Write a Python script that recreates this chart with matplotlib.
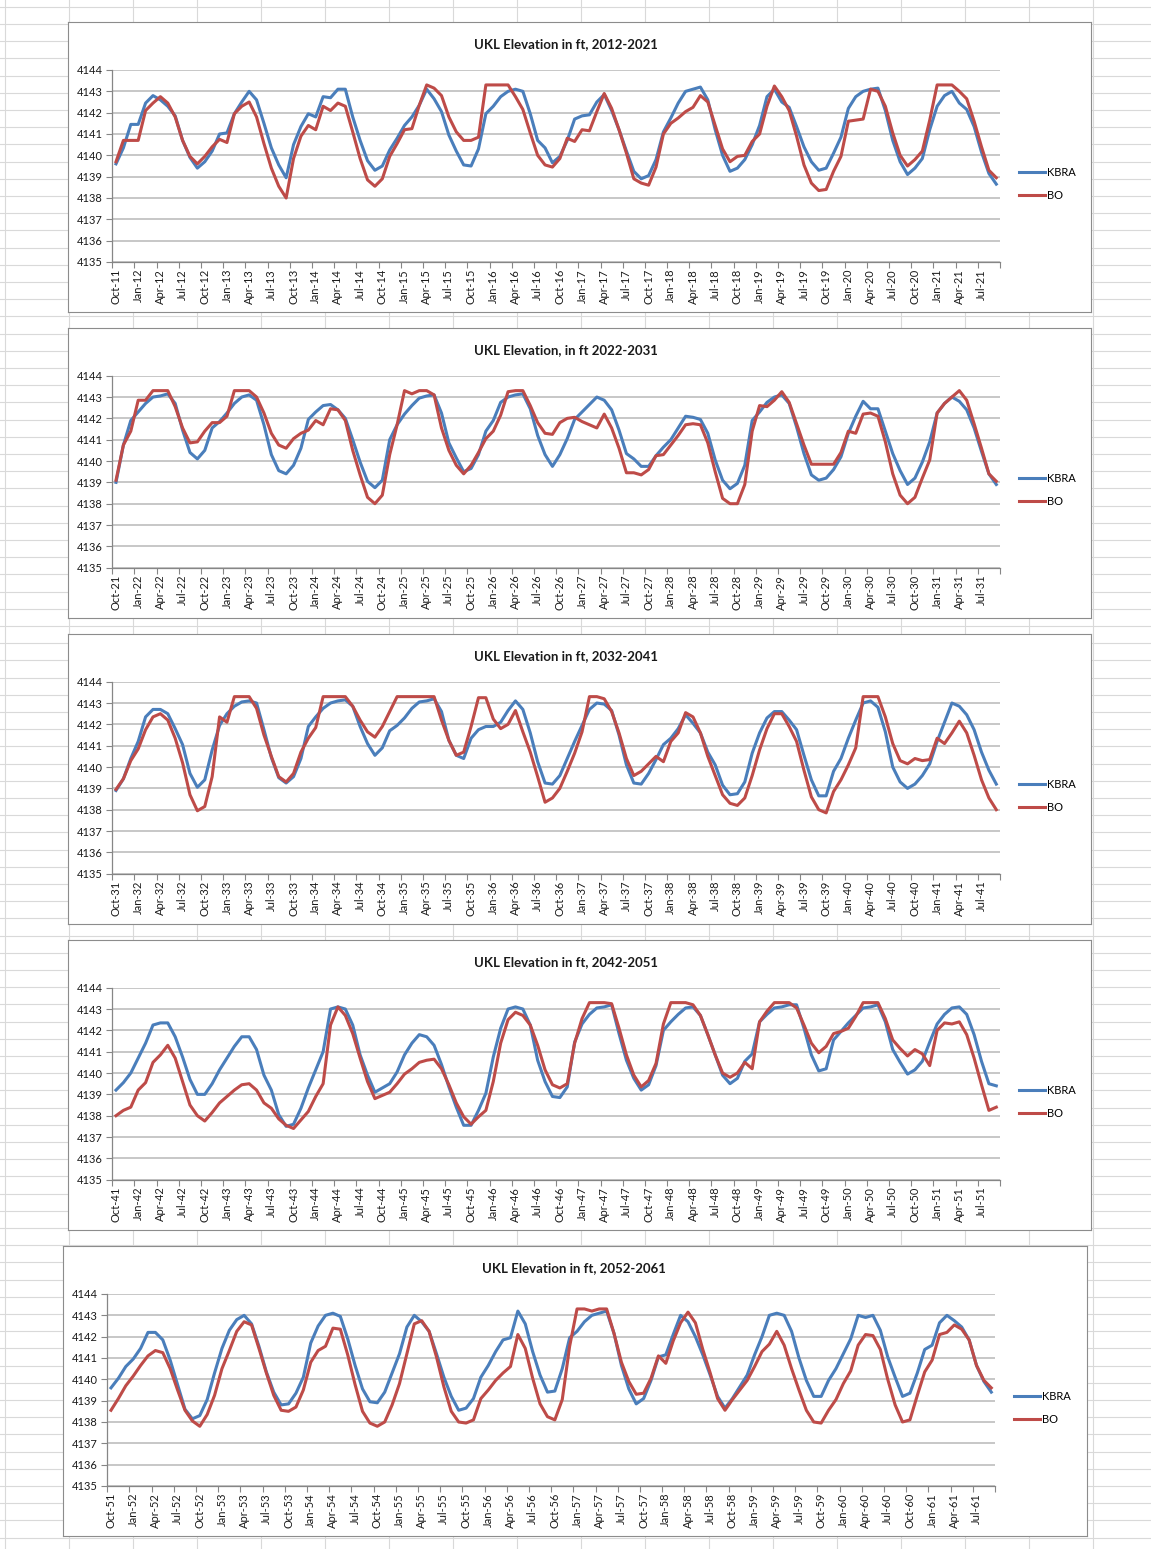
import numpy as np
import pandas as pd
import matplotlib.pyplot as plt
from matplotlib.lines import Line2D

plt.rcParams['font.family'] = ['Lato', 'DejaVu Sans']

W, H = 1151, 1549

titles = ['UKL Elevation in ft, 2012-2021', 'UKL Elevation, in ft 2022-2031',
          'UKL Elevation in ft, 2032-2041', 'UKL Elevation in ft, 2042-2051',
          'UKL Elevation in ft, 2052-2061']
starts = ['2011-10-01', '2021-10-01', '2031-10-01', '2041-10-01', '2051-10-01']
series_names = ['KBRA', 'BO']

# monthly elevations, Oct through Sep, 10 water years per chart
kbra_2012 = [4139.6, 4140.35, 4141.45, 4141.45, 4142.45, 4142.8, 4142.6, 4142.3, 4141.85, 4140.7, 4139.9, 4139.4,
             4139.7, 4140.2, 4141.0, 4141.05, 4141.95, 4142.5, 4143.0, 4142.6, 4141.5, 4140.35, 4139.55, 4138.95,
             4140.5, 4141.35, 4141.95, 4141.8, 4142.75, 4142.7, 4143.1, 4143.1, 4141.8, 4140.7, 4139.75, 4139.3,
             4139.5, 4140.25, 4140.8, 4141.4, 4141.8, 4142.35, 4143.1, 4142.65, 4142.05, 4140.95, 4140.2, 4139.55,
             4139.5, 4140.3, 4141.95, 4142.3, 4142.75, 4143.0, 4143.1, 4143.0, 4141.95, 4140.7, 4140.35, 4139.65,
             4139.95, 4140.7, 4141.7, 4141.85, 4141.9, 4142.5, 4142.85, 4142.1, 4141.2, 4140.2, 4139.25, 4138.9,
             4139.05, 4139.8, 4141.1, 4141.75, 4142.45, 4143.0, 4143.1, 4143.2, 4142.6, 4141.2, 4140.0, 4139.25,
             4139.4, 4139.8, 4140.5, 4141.4, 4142.75, 4143.1, 4142.5, 4142.25, 4141.35, 4140.4, 4139.7, 4139.3,
             4139.4, 4140.1, 4140.85, 4142.2, 4142.75, 4143.0, 4143.1, 4143.15, 4142.1, 4140.7, 4139.7, 4139.1,
             4139.4, 4139.85, 4141.2, 4142.3, 4142.8, 4143.0, 4142.45, 4142.15, 4141.35, 4140.15, 4139.15, 4138.65]
bo_2012 = [4139.7, 4140.7, 4140.7, 4140.7, 4142.1, 4142.45, 4142.75, 4142.45, 4141.8, 4140.7, 4139.95, 4139.6,
           4139.95, 4140.4, 4140.75, 4140.6, 4141.95, 4142.3, 4142.5, 4141.8, 4140.55, 4139.4, 4138.55, 4138.0,
           4139.85, 4140.9, 4141.4, 4141.2, 4142.3, 4142.1, 4142.45, 4142.3, 4141.1, 4139.85, 4138.85, 4138.55,
           4138.9, 4139.95, 4140.55, 4141.2, 4141.25, 4142.35, 4143.3, 4143.15, 4142.8, 4141.8, 4141.1, 4140.7,
           4140.7, 4140.85, 4143.3, 4143.3, 4143.3, 4143.3, 4142.75, 4142.15, 4141.05, 4140.0, 4139.55, 4139.45,
           4139.85, 4140.8, 4140.65, 4141.2, 4141.15, 4142.05, 4142.9, 4142.2, 4141.2, 4140.1, 4138.9, 4138.7,
           4138.6, 4139.45, 4141.0, 4141.5, 4141.75, 4142.05, 4142.25, 4142.8, 4142.5, 4141.4, 4140.3, 4139.7,
           4139.95, 4140.0, 4140.65, 4141.0, 4142.3, 4143.25, 4142.75, 4142.1, 4140.9, 4139.55, 4138.7, 4138.35,
           4138.4, 4139.25, 4139.95, 4141.6, 4141.65, 4141.7, 4143.1, 4143.0, 4142.3, 4141.05, 4140.0, 4139.5,
           4139.8, 4140.2, 4141.65, 4143.3, 4143.3, 4143.3, 4143.0, 4142.65, 4141.6, 4140.4, 4139.3, 4138.95]

kbra_2022 = [4139.0, 4140.75, 4141.9, 4142.3, 4142.7, 4143.0, 4143.05, 4143.15, 4142.7, 4141.45, 4140.4, 4140.1,
             4140.5, 4141.55, 4141.85, 4142.25, 4142.7, 4143.0, 4143.1, 4142.85, 4141.7, 4140.3, 4139.55, 4139.4,
             4139.8, 4140.6, 4141.95, 4142.3, 4142.6, 4142.65, 4142.4, 4142.0, 4141.0, 4139.95, 4139.05, 4138.75,
             4139.1, 4141.0, 4141.7, 4142.2, 4142.6, 4142.95, 4143.05, 4143.1, 4142.25, 4140.85, 4140.15, 4139.5,
             4139.65, 4140.3, 4141.4, 4141.9, 4142.75, 4143.0, 4143.1, 4143.15, 4142.45, 4141.2, 4140.3, 4139.75,
             4140.3, 4141.05, 4141.95, 4142.3, 4142.65, 4143.0, 4142.85, 4142.4, 4141.45, 4140.35, 4140.1, 4139.75,
             4139.75, 4140.25, 4140.65, 4141.0, 4141.55, 4142.1, 4142.05, 4141.95, 4141.3, 4140.05, 4139.1, 4138.7,
             4138.95, 4139.8, 4141.9, 4142.3, 4142.75, 4143.0, 4143.1, 4142.7, 4141.6, 4140.35, 4139.35, 4139.1,
             4139.2, 4139.6, 4140.2, 4141.3, 4142.1, 4142.8, 4142.45, 4142.45, 4141.4, 4140.35, 4139.55, 4138.9,
             4139.2, 4139.95, 4140.9, 4142.25, 4142.7, 4143.0, 4142.8, 4142.4, 4141.55, 4140.45, 4139.4, 4138.9]
bo_2022 = [4139.1, 4140.75, 4141.4, 4142.85, 4142.85, 4143.3, 4143.3, 4143.3, 4142.55, 4141.55, 4140.85, 4140.9,
           4141.4, 4141.8, 4141.8, 4142.1, 4143.3, 4143.3, 4143.3, 4143.0, 4142.25, 4141.3, 4140.75, 4140.6,
           4141.05, 4141.3, 4141.45, 4141.9, 4141.7, 4142.45, 4142.4, 4141.9, 4140.5, 4139.35, 4138.3, 4138.0,
           4138.4, 4140.3, 4141.7, 4143.3, 4143.15, 4143.3, 4143.3, 4143.1, 4141.55, 4140.5, 4139.8, 4139.4,
           4139.8, 4140.4, 4141.05, 4141.4, 4142.15, 4143.25, 4143.3, 4143.3, 4142.6, 4141.8, 4141.3, 4141.25,
           4141.8, 4142.0, 4142.05, 4141.85, 4141.7, 4141.55, 4142.2, 4141.55, 4140.6, 4139.45, 4139.45, 4139.35,
           4139.6, 4140.25, 4140.3, 4140.75, 4141.2, 4141.7, 4141.75, 4141.7, 4140.85, 4139.5, 4138.25, 4138.0,
           4138.0, 4138.9, 4141.4, 4142.6, 4142.55, 4142.85, 4143.25, 4142.75, 4141.75, 4140.75, 4139.85, 4139.85,
           4139.85, 4139.85, 4140.4, 4141.4, 4141.3, 4142.2, 4142.25, 4142.1, 4140.9, 4139.4, 4138.4, 4138.0,
           4138.3, 4139.2, 4140.05, 4142.25, 4142.7, 4143.0, 4143.3, 4142.85, 4141.75, 4140.6, 4139.4, 4139.05]

kbra_2032 = [4138.9, 4139.45, 4140.4, 4141.2, 4142.35, 4142.7, 4142.7, 4142.5, 4141.8, 4141.05, 4139.7, 4139.05,
             4139.4, 4140.8, 4141.95, 4142.5, 4142.85, 4143.05, 4143.1, 4143.0, 4141.75, 4140.45, 4139.5, 4139.25,
             4139.55, 4140.4, 4141.9, 4142.35, 4142.75, 4143.0, 4143.1, 4143.15, 4142.85, 4141.9, 4141.1, 4140.55,
             4140.9, 4141.7, 4141.95, 4142.3, 4142.75, 4143.05, 4143.1, 4143.2, 4142.6, 4141.25, 4140.55, 4140.4,
             4141.35, 4141.75, 4141.9, 4141.9, 4142.1, 4142.65, 4143.1, 4142.7, 4141.6, 4140.25, 4139.25, 4139.2,
             4139.6, 4140.4, 4141.2, 4141.95, 4142.7, 4143.0, 4142.95, 4142.65, 4141.5, 4140.1, 4139.25, 4139.2,
             4139.7, 4140.35, 4141.05, 4141.35, 4141.8, 4142.45, 4142.05, 4141.6, 4140.7, 4140.1, 4139.15, 4138.7,
             4138.75, 4139.3, 4140.65, 4141.6, 4142.3, 4142.6, 4142.6, 4142.2, 4141.75, 4140.55, 4139.4, 4138.65,
             4138.65, 4139.8, 4140.4, 4141.35, 4142.2, 4143.0, 4143.1, 4142.8, 4141.65, 4140.0, 4139.3, 4139.0,
             4139.2, 4139.6, 4140.15, 4141.2, 4142.1, 4143.0, 4142.85, 4142.45, 4141.75, 4140.7, 4139.85, 4139.2]
bo_2032 = [4138.95, 4139.45, 4140.3, 4140.85, 4141.75, 4142.35, 4142.5, 4142.2, 4141.35, 4140.2, 4138.7, 4137.95,
           4138.15, 4139.55, 4142.35, 4142.1, 4143.3, 4143.3, 4143.3, 4142.75, 4141.5, 4140.5, 4139.55, 4139.3,
           4139.7, 4140.7, 4141.35, 4141.85, 4143.3, 4143.3, 4143.3, 4143.3, 4142.85, 4142.2, 4141.65, 4141.4,
           4141.9, 4142.6, 4143.3, 4143.3, 4143.3, 4143.3, 4143.3, 4143.3, 4142.2, 4141.25, 4140.55, 4140.7,
           4141.9, 4143.25, 4143.25, 4142.25, 4141.8, 4142.0, 4142.65, 4141.65, 4140.7, 4139.55, 4138.35, 4138.55,
           4139.0, 4139.8, 4140.65, 4141.65, 4143.3, 4143.3, 4143.2, 4142.6, 4141.6, 4140.4, 4139.6, 4139.8,
           4140.15, 4140.5, 4140.25, 4141.2, 4141.6, 4142.55, 4142.35, 4141.6, 4140.5, 4139.6, 4138.7, 4138.3,
           4138.2, 4138.55, 4139.6, 4140.8, 4141.8, 4142.5, 4142.5, 4141.9, 4141.2, 4139.85, 4138.6, 4138.0,
           4137.85, 4138.85, 4139.4, 4140.1, 4140.9, 4143.3, 4143.3, 4143.3, 4142.35, 4141.1, 4140.3, 4140.15,
           4140.4, 4140.3, 4140.35, 4141.35, 4141.1, 4141.6, 4142.15, 4141.6, 4140.55, 4139.4, 4138.55, 4138.0]

kbra_2042 = [4139.2, 4139.55, 4140.0, 4140.7, 4141.4, 4142.25, 4142.35, 4142.35, 4141.7, 4140.75, 4139.7, 4139.0,
             4139.0, 4139.5, 4140.15, 4140.7, 4141.25, 4141.7, 4141.7, 4141.1, 4139.9, 4139.2, 4138.05, 4137.5,
             4137.6, 4138.35, 4139.3, 4140.15, 4141.0, 4143.0, 4143.1, 4143.0, 4142.25, 4140.85, 4139.9, 4139.1,
             4139.3, 4139.5, 4140.05, 4140.85, 4141.4, 4141.8, 4141.7, 4141.3, 4140.4, 4139.35, 4138.4, 4137.55,
             4137.55, 4138.25, 4139.05, 4140.75, 4142.1, 4143.0, 4143.1, 4143.0, 4142.25, 4140.6, 4139.6, 4138.9,
             4138.85, 4139.35, 4141.45, 4142.3, 4142.75, 4143.05, 4143.1, 4143.2, 4141.85, 4140.6, 4139.75, 4139.2,
             4139.45, 4140.35, 4142.0, 4142.4, 4142.75, 4143.05, 4143.1, 4142.7, 4141.8, 4140.85, 4139.9, 4139.5,
             4139.75, 4140.55, 4140.9, 4142.4, 4142.75, 4143.05, 4143.1, 4143.2, 4143.2, 4142.1, 4140.85, 4140.1,
             4140.2, 4141.55, 4141.95, 4142.35, 4142.7, 4143.05, 4143.1, 4143.2, 4142.4, 4141.1, 4140.5, 4139.95,
             4140.15, 4140.55, 4141.45, 4142.3, 4142.75, 4143.05, 4143.1, 4142.75, 4141.8, 4140.55, 4139.5, 4139.4]
bo_2042 = [4138.0, 4138.25, 4138.4, 4139.2, 4139.55, 4140.5, 4140.85, 4141.3, 4140.7, 4139.6, 4138.5, 4138.0,
           4137.75, 4138.15, 4138.6, 4138.9, 4139.2, 4139.45, 4139.5, 4139.2, 4138.6, 4138.35, 4137.85, 4137.55,
           4137.4, 4137.8, 4138.2, 4138.9, 4139.5, 4142.25, 4143.1, 4142.7, 4141.85, 4140.7, 4139.6, 4138.8,
           4138.95, 4139.1, 4139.5, 4139.95, 4140.2, 4140.5, 4140.6, 4140.65, 4140.2, 4139.45, 4138.6, 4137.95,
           4137.6, 4137.95, 4138.25, 4139.6, 4141.4, 4142.5, 4142.85, 4142.7, 4142.25, 4141.3, 4140.15, 4139.45,
           4139.3, 4139.5, 4141.4, 4142.55, 4143.3, 4143.3, 4143.3, 4143.25, 4142.1, 4140.85, 4139.9, 4139.35,
           4139.65, 4140.45, 4142.3, 4143.3, 4143.3, 4143.3, 4143.2, 4142.7, 4141.8, 4140.85, 4140.0, 4139.8,
           4140.0, 4140.5, 4140.2, 4142.4, 4142.9, 4143.3, 4143.3, 4143.3, 4143.05, 4142.25, 4141.4, 4140.95,
           4141.25, 4141.85, 4141.95, 4142.1, 4142.65, 4143.3, 4143.3, 4143.3, 4142.55, 4141.55, 4141.15, 4140.8,
           4141.1, 4140.9, 4140.35, 4142.0, 4142.35, 4142.3, 4142.4, 4141.8, 4140.7, 4139.45, 4138.25, 4138.4]

kbra_2052 = [4139.6, 4140.05, 4140.6, 4140.95, 4141.45, 4142.2, 4142.2, 4141.85, 4140.9, 4139.75, 4138.6, 4138.15,
             4138.3, 4139.05, 4140.3, 4141.45, 4142.3, 4142.8, 4143.0, 4142.6, 4141.55, 4140.35, 4139.4, 4138.8,
             4138.85, 4139.35, 4140.1, 4141.7, 4142.5, 4143.0, 4143.1, 4142.95, 4141.9, 4140.65, 4139.55, 4138.95,
             4138.9, 4139.4, 4140.3, 4141.2, 4142.45, 4143.0, 4142.7, 4142.25, 4141.2, 4140.1, 4139.2, 4138.55,
             4138.65, 4139.1, 4140.1, 4140.65, 4141.3, 4141.85, 4141.95, 4143.2, 4142.6, 4141.3, 4140.2, 4139.4,
             4139.45, 4140.5, 4141.95, 4142.25, 4142.7, 4143.0, 4143.1, 4143.2, 4142.15, 4140.65, 4139.55, 4138.85,
             4139.1, 4139.95, 4141.05, 4141.15, 4142.1, 4143.0, 4142.7, 4142.0, 4141.15, 4140.2, 4139.2, 4138.65,
             4139.1, 4139.65, 4140.2, 4141.15, 4142.0, 4143.0, 4143.1, 4143.0, 4142.25, 4141.0, 4139.95, 4139.2,
             4139.2, 4139.95, 4140.5, 4141.2, 4141.9, 4143.0, 4142.9, 4143.0, 4142.3, 4141.05, 4140.1, 4139.2,
             4139.35, 4140.3, 4141.4, 4141.6, 4142.65, 4143.0, 4142.75, 4142.45, 4141.85, 4140.65, 4139.9, 4139.4]
bo_2052 = [4138.55, 4139.1, 4139.7, 4140.15, 4140.65, 4141.1, 4141.35, 4141.25, 4140.5, 4139.5, 4138.55, 4138.05,
           4137.8, 4138.35, 4139.25, 4140.5, 4141.35, 4142.25, 4142.7, 4142.55, 4141.45, 4140.3, 4139.25, 4138.55,
           4138.5, 4138.7, 4139.5, 4140.8, 4141.35, 4141.55, 4142.4, 4142.35, 4141.15, 4139.75, 4138.5, 4137.95,
           4137.8, 4138.0, 4138.8, 4139.8, 4141.2, 4142.6, 4142.75, 4142.25, 4141.05, 4139.65, 4138.5, 4138.0,
           4137.95, 4138.1, 4139.1, 4139.5, 4139.95, 4140.3, 4140.6, 4142.1, 4141.45, 4140.05, 4138.85, 4138.25,
           4138.1, 4139.05, 4141.55, 4143.3, 4143.3, 4143.2, 4143.3, 4143.3, 4142.15, 4140.8, 4139.9, 4139.3,
           4139.35, 4140.05, 4141.1, 4140.75, 4141.8, 4142.65, 4143.15, 4142.65, 4141.4, 4140.3, 4139.1, 4138.55,
           4139.05, 4139.5, 4139.95, 4140.6, 4141.3, 4141.65, 4142.25, 4141.6, 4140.5, 4139.5, 4138.55, 4138.0,
           4137.95, 4138.55, 4139.05, 4139.8, 4140.4, 4141.6, 4142.1, 4142.05, 4141.4, 4140.0, 4138.8, 4138.0,
           4138.1, 4139.25, 4140.35, 4140.9, 4142.1, 4142.2, 4142.55, 4142.35, 4141.85, 4140.65, 4139.95, 4139.6]

kbra_all = [kbra_2012, kbra_2022, kbra_2032, kbra_2042, kbra_2052]
bo_all = [bo_2012, bo_2022, bo_2032, bo_2042, bo_2052]

BLUE = '#4a7ebb'
RED = '#be4b48'


def px_rect(x0, y0, x1, y1):
    return [x0 / W, 1 - y1 / H, (x1 - x0) / W, (y1 - y0) / H]


fig = plt.figure(figsize=(W / 100, H / 100), dpi=100)

# spreadsheet cells behind the charts
for gx in np.arange(5, W, 64):
    fig.add_artist(Line2D([gx / W, gx / W], [0, 1], color='#d9d9d9', lw=0.8, zorder=-5))
for gy in np.arange(6.7, H, 17.2):
    fig.add_artist(Line2D([0, 1], [1 - gy / H, 1 - gy / H], color='#d9d9d9', lw=0.8, zorder=-5))

for k in range(5):
    dy = [0, 305.7, 611.7, 917.7, 1224][k]
    dx = -5 if k == 4 else 0
    fx0, fx1 = (63, 1087) if k == 4 else (68, 1091)

    frame = fig.add_axes(px_rect(fx0, 22 + dy, fx1, 312 + dy), zorder=1)
    frame.set_xticks([])
    frame.set_yticks([])
    frame.set_facecolor('white')
    for sp in frame.spines.values():
        sp.set_color('#8c8c8c')
        sp.set_linewidth(0.8)

    ax = fig.add_axes(px_rect(112.3 + dx, 70 + dy, 1000 + dx, 262 + dy), zorder=2)
    ax.set_facecolor('none')

    x = np.arange(120)
    months = pd.date_range(starts[k], periods=120, freq='MS').strftime('%b-%y')
    l1, = ax.plot(x, kbra_all[k], color=BLUE, lw=2.2, solid_joinstyle='round', zorder=3)
    l2, = ax.plot(x, bo_all[k], color=RED, lw=2.2, solid_joinstyle='round', zorder=4)

    ax.set_xlim(-0.5, 119.5)
    ax.set_ylim(4135, 4144)
    ax.set_yticks(range(4135, 4145))
    ax.yaxis.grid(True, color='#b8b8b8', lw=1.1)
    ax.set_axisbelow(True)
    ax.tick_params(axis='y', length=4, color='#868686', labelsize=8, pad=3, labelcolor='#1a1a1a')

    ax.set_xticks(np.arange(-0.5, 120, 3))
    ax.set_xticklabels([])
    ax.set_xticks(np.arange(0, 120, 3), minor=True)
    ax.set_xticklabels(months[::3], minor=True, rotation=90)
    ax.tick_params(axis='x', which='major', length=4, color='#868686')
    ax.tick_params(axis='x', which='minor', length=0, labelsize=8, pad=5, labelcolor='#1a1a1a')

    for side in ['top', 'right']:
        ax.spines[side].set_visible(False)
    for side in ['left', 'bottom']:
        ax.spines[side].set_color('#868686')
        ax.spines[side].set_linewidth(0.9)

    tx = 574 if k == 4 else 566
    fig.text(tx / W, 1 - (44 + dy) / H, titles[k], ha='center', va='center',
             fontsize=9.5, fontweight='bold', color='#1a1a1a')

    fig.legend([l1, l2], series_names, loc='center left',
               bbox_to_anchor=((1019 + dx) / W, 1 - (184 + dy) / H),
               frameon=False, fontsize=8, handlelength=2.3, handletextpad=0.25,
               labelspacing=1.1, borderaxespad=0, borderpad=0)

fig.savefig('out.png', dpi=100, facecolor='white')
